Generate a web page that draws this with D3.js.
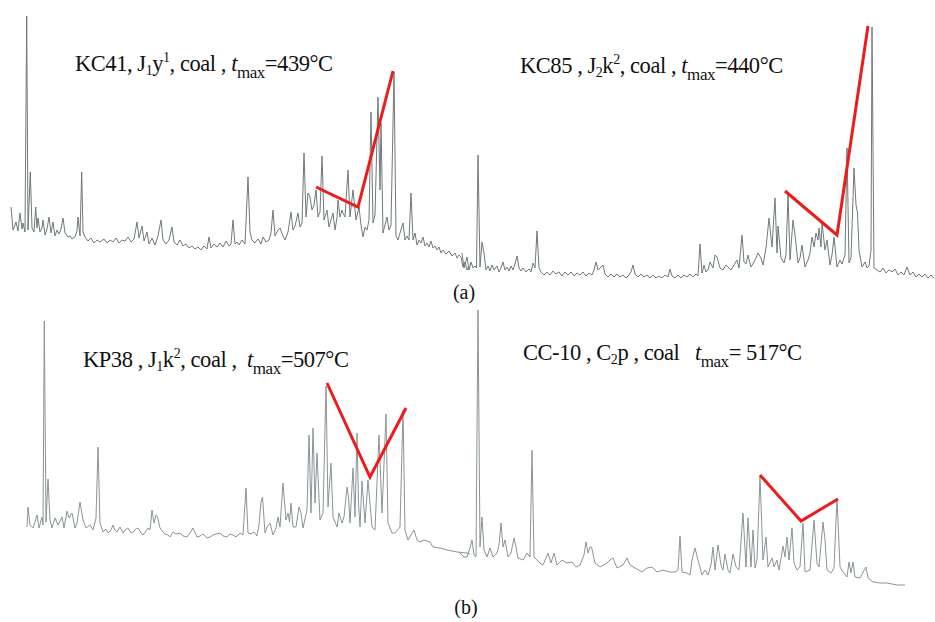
<!DOCTYPE html>
<html><head><meta charset="utf-8">
<script src="https://cdn.jsdelivr.net/npm/d3@7"></script>
<style>body{margin:0;background:#fff}svg{display:block}text{white-space:pre}</style>
</head><body>
<script>
// retention index (scan) vs relative intensity
const traceKC41 = [[11,83],[13,60],[15,65],[16,68],[18,59],[20,77],[22,61],[23,67],[25,58],[26.7,274],[28,60],[30.3,118],[32,62],[34,58],[35.7,83],[37,62],[38,72],[40,58],[42,62],[43,70],[45,55],[47,61],[49,73],[51,57],[53,68],[55,54],[57,60],[59,56],[61,61],[63,72],[65,57],[68,53],[70,54],[72,51],[75,53],[77,59],[78,73],[80,54],[81.7,118],[83,58],[85,53],[88,49],[91,52],[94,47],[97,50],[100,48],[104,51],[107,47],[110,50],[113,48],[116,52],[119,47],[122,50],[125,49],[128,53],[131,48],[134,51],[137,68],[139,52],[142,64],[144,49],[147,58],[149,46],[152,52],[155,45],[158,54],[161,70],[163,50],[166,46],[169,50],[172,63],[174,48],[177,45],[180,50],[183,44],[186,46],[189,42],[192,44],[195,41],[198,43],[201,40],[204,44],[207,41],[209,53],[211,42],[214,46],[217,43],[220,47],[223,43],[226,49],[229,44],[231,46],[233,70],[235,46],[237,48],[239,45],[242,50],[245,46],[248,113],[250,58],[252,50],[255,47],[258,51],[261,46],[263,53],[266,48],[269,50],[271,57],[273,80],[275,54],[278,60],[280,62],[283,54],[285,50],[288,58],[291,78],[293,60],[295,64],[298,77],[300,63],[302,67],[304,137],[306,73],[308,97],[310,93],[312,80],[314,85],[316,100],[318,73],[320,78],[322,134],[324,70],[327,80],[329,63],[331,70],[333,77],[335,60],[337,72],[338,90],[340,73],[342,80],[343,77],[345,73],[348,120],[350,73],[353,100],[356,70],[359,83],[361,65],[363,53],[365,63],[367,60],[369,70],[371,178],[373,67],[375,75],[378,193],[380,100],[381,167],[383,57],[385,65],[387,73],[389,60],[391,65],[394,218],[396,54],[398,50],[400,57],[403,67],[405,50],[407,54],[409,50],[411,97],[413,50],[415,57],[417,45],[419,50],[421,47],[423,53],[425,44],[427,47],[429,43],[431,49],[433,42],[435,44],[437,40],[439,43],[441,37],[443,40],[446,36],[449,39],[452,34],[455,37],[457,32],[459,35],[461,33],[463,23],[465,28],[467,20],[469,24]];

const traceKC85 = [[462,37],[464,22],[467,33],[469,20],[471,28],[473,22],[475,24],[476.5,22],[478,135],[480,23],[482,48],[484,37],[486,20],[488,24],[490,19],[492,25],[494,20],[497,24],[499,18],[501,22],[503,28],[505,20],[507,23],[509,19],[511,24],[513,20],[515,26],[517,34],[519,22],[521,19],[523,22],[526,18],[529,21],[531,18],[533,27],[535,22],[537,59],[539,22],[541,18],[544,15],[547,18],[550,15],[553,19],[556,16],[559,18],[562,14],[565,18],[568,15],[571,18],[574,14],[577,17],[580,15],[583,18],[586,14],[589,17],[592,15],[594,20],[596,28],[598,20],[600,22],[603,25],[605,16],[608,13],[611,16],[614,13],[617,16],[620,13],[623,15],[626,12],[629,15],[631,18],[633,25],[635,16],[638,13],[641,16],[644,13],[647,15],[650,12],[653,15],[656,12],[659,14],[662,12],[665,15],[668,13],[670,21],[672,14],[675,12],[678,15],[681,12],[684,15],[687,13],[690,16],[693,13],[696,16],[698,14],[700,46],[702,17],[704,25],[706,18],[708,20],[710,28],[713,22],[715,35],[717,33],[720,22],[723,20],[726,25],[728,23],[731,20],[734,25],[737,30],[739,22],[742,55],[744,28],[746,26],[748,35],[751,23],[754,28],[756,32],[758,37],[761,32],[763,25],[766,42],[769,72],[772,43],[775,92],[777,37],[778,64],[781,32],[784,27],[786,35],[788,96],[790,30],[793,70],[795,55],[798,27],[800,32],[802,45],[805,23],[808,30],[810,37],[812,53],[814,43],[816,57],[818,50],[819,62],[821,43],[822,67],[825,40],[827,50],[830,25],[832,35],[834,53],[837,23],[840,30],[842,26],[845,35],[847,142],[849,27],[851,32],[854,122],[856,85],[857.5,77],[859,40],[862,23],[865,28],[867,22],[869,24],[871,40],[872,263],[874,22],[877,20],[880,18],[883,22],[886,17],[889,20],[892,18],[895,21],[898,15],[901,18],[904,15],[907,23],[910,15],[913,18],[916,13],[919,16],[922,13],[925,16],[928,12],[931,15],[934,12]];

const traceKP38 = [[27,73],[28,93],[30,75],[33,72],[35,78],[37,85],[39,72],[42,83],[43,75],[44.3,279],[46,78],[48,121],[50,80],[52,72],[55,82],[58,75],[62,83],[64,72],[67,89],[69,82],[72,87],[75,72],[77,77],[80,98],[83,80],[86,72],[90,75],[93,70],[96,82],[98,153],[100,77],[103,68],[106,71],[108,67],[111,70],[113,75],[115,70],[117,68],[120,73],[123,67],[125,70],[128,72],[131,67],[133,68],[136,71],[138,72],[141,67],[143,65],[146,69],[148,72],[150,70],[152,90],[154,77],[156,85],[157.5,83],[160,72],[163,68],[165,66],[168,65],[170,63],[173,68],[176,66],[180,67],[183,64],[187,63],[190,67],[193,72],[197,63],[200,64],[203,66],[207,62],[210,63],[213,65],[216,66],[220,67],[223,64],[227,63],[230,66],[233,65],[236,63],[240,67],[243,65],[246,112],[248,67],[251,66],[254,68],[257,64],[259,75],[261,98],[262.5,103],[265,67],[267,73],[270,77],[273,65],[276,72],[278,83],[280,73],[283,117],[286,80],[288,87],[289.5,78],[291,97],[293,73],[296,73],[299,93],[301,87],[303,72],[307,90],[309,165],[311,87],[313,172],[315,97],[317,147],[320,80],[323,87],[326,214],[328,93],[331,137],[333,83],[337,73],[339,87],[342,77],[344,83],[347,113],[348.5,103],[350,77],[353,132],[355,83],[357,167],[358.5,97],[360,73],[362,119],[365,77],[368,120],[372,73],[375,70],[379,165],[382,87],[386,186],[388,77],[392,67],[395,67],[400,73],[403,190],[405,70],[408,60],[412,67],[414,70],[417,60],[420,58],[424,60],[430,58],[433,53],[440,52],[447,50],[457,48],[467,47],[470,46]];

const traceCC10 = [[460,47],[464,43],[467,43],[470,52],[472,60],[474,45],[476,43],[478,290],[480,53],[482,83],[484,50],[487,43],[490,52],[493,43],[497,47],[499,55],[501,77],[503,53],[505,60],[508,43],[511,47],[514,62],[516,53],[518,42],[523,40],[527,47],[530,43],[532,150],[534,43],[537,40],[540,37],[543,35],[546,42],[548,47],[551,37],[554,47],[557,35],[562,40],[567,37],[572,38],[576,33],[580,35],[584,45],[586,58],[588,47],[590,53],[591.5,53],[595,37],[600,33],[607,37],[610,40],[613,42],[617,32],[623,35],[627,42],[630,35],[635,32],[642,28],[647,32],[652,33],[657,28],[663,30],[670,28],[675,28],[678,30],[680,64],[682,28],[687,27],[690,25],[692,40],[695,52],[698,40],[702,25],[705,30],[708,25],[711,35],[713,53],[715,30],[718,55],[721,35],[723,30],[725,46],[728,30],[730,27],[733,46],[736,33],[739,30],[743,87],[746,33],[748,82],[751,33],[753,70],[755,32],[757,40],[760,124],[763,40],[766,63],[768,33],[772,42],[774,33],[777,40],[779,30],[783,54],[785,43],[787,63],[789,40],[792,72],[794,37],[797,30],[800,33],[803,77],[805,28],[810,30],[814,80],[817,37],[819,33],[823,78],[825,60],[827,30],[831,27],[834,32],[837,102],[840,33],[843,28],[847,23],[849,38],[851,27],[853,38],[855,23],[860,22],[866,33],[868,22],[873,18],[880,17],[887,17],[897,15],[905,15]];

// red marker polylines (peak envelope)
const markKC41 = [[316,103],[358,83],[393,219]];
const markKC85 = [[785,99],[837,55],[868,264]];
const markKP38 = [[327,217],[370,123],[406,192]];
const markCC10 = [[760,125],[801,79],[838,101]];

// labels: [text, style]
const labels = [
  {panel:"a", x:75, y:219, parts:[["KC41, J"],["1","sub"],["y"],["1","sup"],[", coal , "],["t","it"],["max","sub2"],["=439°C"]]},
  {panel:"a", x:520, y:217, parts:[["KC85 , J"],["2","sub"],["k"],["2","sup"],[", coal , "],["t","it"],["max","sub2"],["=440°C"]]},
  {panel:"b", x:83, y:233, parts:[["KP38 , J"],["1","sub"],["k"],["2","sup"],[", coal ,  "],["t","it"],["max","sub2"],["=507°C"]]},
  {panel:"b", x:523, y:240, parts:[["CC-10 , C"],["2","sub"],["p , coal   "],["t","it"],["max","sub2"],["= 517°C"]]}
];
const panelTags = [{text:"(a)", x:464, y:-9, panel:"a"}, {text:"(b)", x:466, y:-14, panel:"b"}];

const W = 935, H = 622;
const svg = d3.select("body").append("svg").attr("width", W).attr("height", H);

const x = d3.scaleLinear().domain([0, 935]).range([0, 935]);
const yA = d3.scaleLinear().domain([0, 290]).range([290, 0]);
const yB = d3.scaleLinear().domain([0, 600]).range([600, 0]);
const yOf = p => p === "a" ? yA : yB;

function drawTrace(data, y, color){
  const line = d3.line().x(d => x(d[0])).y(d => y(d[1]));
  svg.append("path").datum(data).attr("d", line)
    .attr("fill","none").attr("stroke", color).attr("stroke-width", 1).attr("stroke-linejoin","round");
}
drawTrace(traceKC41, yA, "#6f797b");
drawTrace(traceKC85, yA, "#6f797b");
drawTrace(traceKP38, yB, "#8a9496");
drawTrace(traceCC10, yB, "#8a9496");

function drawMark(data, y){
  const line = d3.line().x(d => x(d[0])).y(d => y(d[1]));
  svg.append("path").datum(data).attr("d", line)
    .attr("fill","none").attr("stroke","#ec1c1c").attr("stroke-width", 3).attr("stroke-linejoin","miter");
}
drawMark(markKC41, yA); drawMark(markKC85, yA); drawMark(markKP38, yB); drawMark(markCC10, yB);

const font = "'Liberation Serif','Times New Roman',serif";
const styleInfo = {
  sub:  {size:14, off:4},
  sup:  {size:14, off:-9},
  sub2: {size:17, off:7},
  it:   {size:22.5, off:0, italic:true},
  none: {size:22.5, off:0}
};
labels.forEach(L => {
  const y = yOf(L.panel);
  const t = svg.append("text").attr("x", x(L.x)).attr("y", y(L.y))
    .attr("font-family", font).attr("font-size", 22.5).attr("letter-spacing", -0.45).attr("fill","#111");
  let prev = 0;
  L.parts.forEach(p => {
    const st = styleInfo[p[1] || "none"];
    const s = t.append("tspan").text(p[0]).attr("font-size", st.size).attr("dy", st.off - prev);
    if (st.italic) s.attr("font-style","italic");
    prev = st.off;
  });
});

panelTags.forEach(P => {
  svg.append("text").attr("x", x(P.x)).attr("y", yOf(P.panel)(P.y))
    .attr("text-anchor","middle").attr("font-family", font).attr("font-size", 20).attr("fill","#111").text(P.text);
});
</script>
</body></html>
